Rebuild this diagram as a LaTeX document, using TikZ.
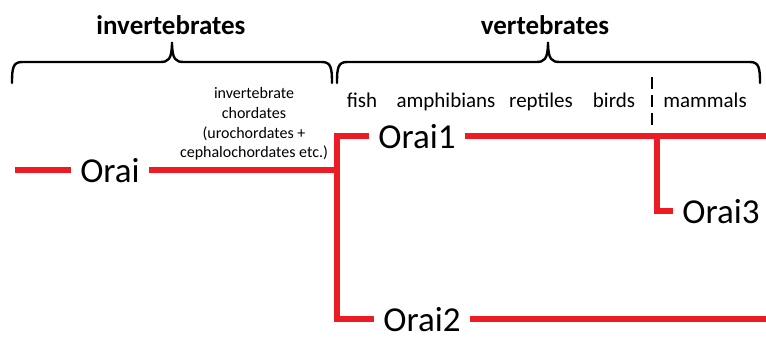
\documentclass[tikz,border=0pt]{standalone}
\usepackage{fontspec}
\setmainfont{Carlito}
\usetikzlibrary{positioning, calc}
\definecolor{orared}{RGB}{237,28,36}

\begin{document}
\begin{tikzpicture}[
    x=1pt, y=-1pt,
    % Global Styles
    % Group labels above the braces
    grouplabel/.style={font=\fontsize{27}{32}\selectfont\bfseries, anchor=base, inner sep=0pt},
    % Taxon names under the vertebrate brace
    taxon/.style={font=\fontsize{21}{25}\selectfont, anchor=base, inner sep=0pt},
    % Gene names on the tree
    gene/.style={font=\fontsize{35}{42}\selectfont, anchor=base, inner xsep=9pt, inner ysep=0pt},
    % Tree branches
    branch/.style={draw=orared, line width=5.5pt},
    % Curly braces
    bracket/.style={draw=black, line width=2.4pt, line cap=round}
]
    \useasboundingbox (0,0) rectangle (766,337);

    % --- Braces ---
    \draw[bracket] (12,83) .. controls (12,68) and (13,62) .. (22,62) -- (160,62)
        .. controls (168,62) and (172,60) .. (172,42)
        .. controls (172,60) and (176,62) .. (184,62) -- (322,62)
        .. controls (331,62) and (332,68) .. (332,83);
    \draw[bracket] (337,83) .. controls (337,68) and (338,62) .. (347,62) -- (536,62)
        .. controls (544,62) and (548,60) .. (548,42)
        .. controls (548,60) and (552,62) .. (560,62) -- (750,62)
        .. controls (759,62) and (760,68) .. (760,83);

    % --- Group Labels ---
    \node[grouplabel] (invert) at (171,35) {invertebrates};
    \node[grouplabel] (vert) at (545,35) {vertebrates};

    % --- Taxa ---
    \node[taxon] (fish) at (362,107) {fish};
    \node[taxon] (amph) at (446,107) {amphibians};
    \node[taxon] (rept) at (541,107) {reptiles};
    \node[taxon] (bird) at (614,107) {birds};
    \node[taxon] (mamm) at (705,107) {mammals};
    \draw[line width=2.6pt, dash pattern=on 12pt off 6pt] (652,77) -- (652,125);

    \node[font=\fontsize{16}{19.6}\selectfont, align=center, inner sep=0pt, anchor=north]
        (chord) at (254,87.5) {invertebrate\\chordates\\(urochordates +\\cephalochordates etc.)};

    % --- Genes ---
    \node[gene] (orai) at (110,182) {Orai};
    \node[gene] (orai1) at (417,148) {Orai1};
    \node[gene] (orai3) at (721,223) {Orai3};
    \node[gene] (orai2) at (422,331) {Orai2};

    % --- Tree ---
    \coordinate (root) at (15,0);
    \coordinate (split) at (337,170);
    \coordinate (mamsplit) at (657,0);
    \coordinate (rim) at (766,0);

    \draw[branch] (root |- orai.west) -- (orai.west);
    \draw[branch] (orai.east) -- (orai.east -| split);
    \draw[branch] (orai1.west) -| (split) |- (orai2.west);
    \draw[branch] (orai1.east) -- (orai1.east -| rim);
    \draw[branch] (orai2.east) -- (orai2.east -| rim);
    \draw[branch] (mamsplit |- orai1.east) |- (orai3.west);

\end{tikzpicture}
\end{document}
